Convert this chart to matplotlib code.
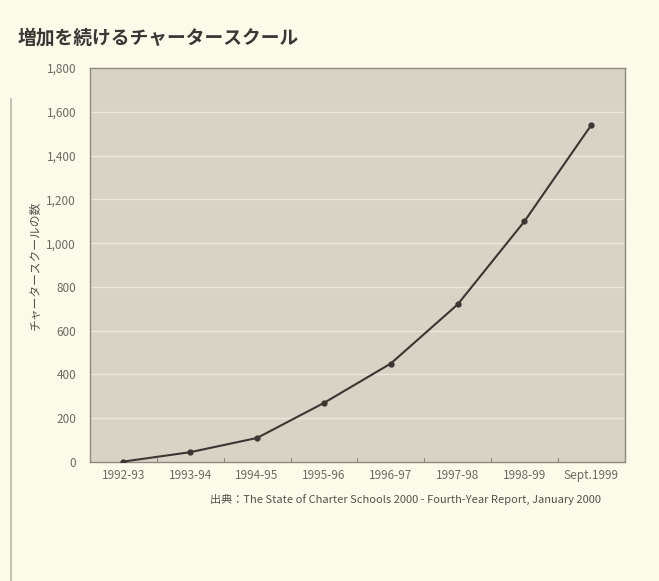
import matplotlib.pyplot as plt
from matplotlib.lines import Line2D

plt.rcParams['font.family'] = ['Noto Sans CJK JP', 'DejaVu Sans']

years = ['1992-93', '1993-94', '1994-95', '1995-96', '1996-97', '1997-98', '1998-99', 'Sept.1999']
schools = [2, 45, 110, 270, 450, 720, 1100, 1540]
yticks = [0, 200, 400, 600, 800, 1000, 1200, 1400, 1600, 1800]

fig = plt.figure(figsize=(6.59, 5.81), dpi=100, facecolor='#fcfbea')
ax = fig.add_axes([0.1366, 0.2048, 0.8114, 0.678])
ax.set_facecolor('#d9d3c5')

x = list(range(len(years)))
ax.plot(x, schools, color='#3b3631', lw=1.5, marker='o', ms=3.5, zorder=3)

ax.set_xlim(-0.5, len(years) - 0.5)
ax.set_ylim(0, 1800)
ax.set_yticks(yticks)
ax.set_yticklabels([f'{v:,}' for v in yticks])
ax.set_xticks(x)
ax.set_xticklabels(years)
ax.tick_params(axis='both', length=0, labelsize=8.5, labelcolor='#6e6a62')
ax.tick_params(axis='y', pad=10)
ax.tick_params(axis='x', pad=5)

# faint grid: horizontal lines every 200, category boundary ticks at the bottom
ax.grid(axis='y', color='#ece7dc', lw=1.0)
for b in range(len(years) - 1):
    ax.plot([b + 0.5, b + 0.5], [0, 18], color='#8d887d', lw=0.8)

for s in ax.spines.values():
    s.set_color('#8d887d')
    s.set_linewidth(1.0)

ax.set_ylabel('チャータースクールの数', fontsize=8.5, color='#55514a', labelpad=3)

fig.text(0.027, 0.925, '増加を続けるチャータースクール', fontsize=13.5, fontweight='bold',
         color='#3a3835')
fig.text(0.912, 0.135, '出典：The State of Charter Schools 2000 - Fourth-Year Report, January 2000',
         fontsize=8, color='#55514a', ha='right')

# page edge from the scan
fig.add_artist(Line2D([0.016, 0.016], [0.0, 0.83], color='#b8b8aa', lw=1.2))

fig.savefig('out.png', dpi=100, facecolor=fig.get_facecolor())
